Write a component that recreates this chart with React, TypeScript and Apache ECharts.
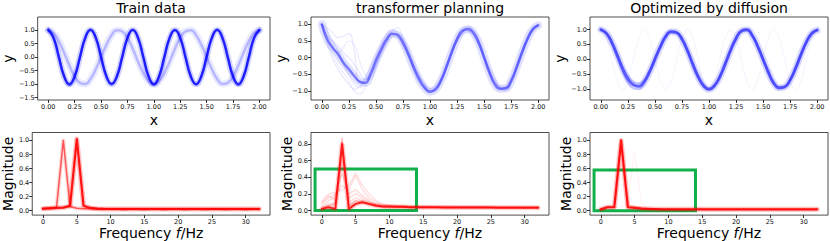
import React, { useEffect, useRef } from 'react';
import * as echarts from 'echarts';

const FONT = 'DejaVu Sans';

// ---------- shared x grids ----------
const X_TOP = [0, 0.05, 0.1, 0.15, 0.2, 0.25, 0.3, 0.35, 0.4, 0.45, 0.5, 0.55, 0.6, 0.65, 0.7, 0.75, 0.8, 0.85, 0.9, 0.95, 1.0,
  1.05, 1.1, 1.15, 1.2, 1.25, 1.3, 1.35, 1.4, 1.45, 1.5, 1.55, 1.6, 1.65, 1.7, 1.75, 1.8, 1.85, 1.9, 1.95, 2.0];
const FREQ = [0, 1, 2, 3, 4, 5, 6, 7, 8, 9, 10, 11, 12, 13, 14, 15, 16, 17, 18, 19, 20, 21, 22, 23, 24, 25, 26, 27, 28, 29, 30, 31, 32];

// ---------- tick labels ----------
const X_TOP_TICKS = [0, 0.25, 0.5, 0.75, 1.0, 1.25, 1.5, 1.75, 2.0];
const FREQ_TICKS = [0, 5, 10, 15, 20, 25, 30];
const Y_TRAIN_TICKS = [-1.5, -1.0, -0.5, 0.0, 0.5, 1.0];
const Y_TOP_TICKS = [-1.0, -0.5, 0.0, 0.5, 1.0];
const Y_MAG_TICKS = [0.0, 0.2, 0.4, 0.6, 0.8, 1.0];
const Y_MAG_TICKS_MID = [0.0, 0.2, 0.4, 0.6, 0.8];

// ---------- Train data (time domain) ----------
const TRAIN_FAST = [1.0, 0.71, 0.0, -0.71, -1.0, -0.71, 0.0, 0.71, 1.0, 0.71, 0.0, -0.71, -1.0, -0.71, 0.0, 0.71, 1.0, 0.71, 0.0, -0.71,
  -1.0, -0.71, 0.0, 0.71, 1.0, 0.71, 0.0, -0.71, -1.0, -0.71, 0.0, 0.71, 1.0, 0.71, 0.0, -0.71, -1.0, -0.71, 0.0, 0.71, 1.0];
const TRAIN_FAST_B = [1.05, 0.75, 0.05, -0.68, -1.06, -0.76, -0.05, 0.66, 1.04, 0.76, 0.04, -0.67, -0.97, -0.75, -0.04, 0.68, 1.03, 0.74, 0.03, -0.74,
  -1.04, -0.68, 0.04, 0.74, 0.98, 0.68, -0.04, -0.74, -1.03, -0.67, 0.05, 0.75, 1.04, 0.67, -0.03, -0.75, -1.05, -0.73, 0.03, 0.73, 1.02];
const TRAIN_SLOW = [1.0, 0.89, 0.59, 0.16, -0.31, -0.71, -0.95, -0.99, -0.81, -0.45, 0.0, 0.45, 0.81, 0.99, 0.95, 0.71, 0.31, -0.16, -0.59, -0.89,
  -1.0, -0.89, -0.59, -0.16, 0.31, 0.71, 0.95, 0.99, 0.81, 0.45, 0.0, -0.45, -0.81, -0.99, -0.95, -0.71, -0.31, 0.16, 0.59, 0.89, 1.0];

// ---------- transformer planning (time domain) ----------
const TRANS_MAIN = [1.0, 0.55, 0.3, 0.1, -0.15, -0.35, -0.55, -0.72, -0.76, -0.5, -0.1, 0.25, 0.55, 0.72, 0.68, 0.45, 0.1, -0.3, -0.65, -0.9,
  -1.02, -0.95, -0.7, -0.3, 0.15, 0.55, 0.8, 0.85, 0.75, 0.45, 0.0, -0.45, -0.8, -0.93, -0.92, -0.7, -0.3, 0.15, 0.55, 0.85, 0.97];
const TRANS_V1 = [1.0, 0.8, 0.5, 0.2, -0.2, -0.5, -0.8, -0.9, -0.7, -0.4, 0.0, 0.35, 0.62, 0.78, 0.7, 0.4, 0.05, -0.35, -0.7, -0.92,
  -1.0, -0.9, -0.62, -0.22, 0.22, 0.6, 0.85, 0.9, 0.72, 0.38, -0.05, -0.5, -0.82, -0.95, -0.88, -0.62, -0.22, 0.22, 0.6, 0.86, 0.98];
const TRANS_V2 = [1.0, 0.9, 0.75, 0.6, 0.65, 0.72, 0.2, -0.75, -0.7, -0.45, -0.05, 0.3, 0.58, 0.7, 0.62, 0.4, 0.08, -0.28, -0.6, -0.85,
  -0.98, -0.98, -0.75, -0.35, 0.1, 0.5, 0.75, 0.88, 0.8, 0.5, 0.05, -0.4, -0.75, -0.92, -0.95, -0.75, -0.35, 0.1, 0.5, 0.8, 0.96];
const TRANS_V3 = [1.0, 0.4, -0.05, -0.35, -0.6, -0.8, -0.95, -0.85, -0.6, -0.3, 0.05, 0.4, 0.7, 0.85, 0.75, 0.5, 0.15, -0.25, -0.6, -0.88,
  -1.05, -1.0, -0.75, -0.35, 0.1, 0.48, 0.75, 0.9, 0.85, 0.55, 0.1, -0.35, -0.72, -0.9, -1.0, -0.8, -0.4, 0.05, 0.5, 0.82, 0.95];
const TRANS_V4 = [1.0, 0.65, 0.5, 0.35, 0.15, 0.0, -0.2, -0.45, -0.65, -0.6, -0.25, 0.15, 0.45, 0.65, 0.72, 0.55, 0.2, -0.2, -0.55, -0.8,
  -0.95, -0.92, -0.65, -0.25, 0.2, 0.6, 0.82, 0.8, 0.65, 0.38, 0.0, -0.4, -0.7, -0.88, -0.9, -0.68, -0.28, 0.18, 0.6, 0.88, 1.0];
const TRANS_V5 = [1.0, 0.7, 0.35, 0.15, 0.3, 0.5, 0.4, -0.1, -0.5, -0.65, -0.3, 0.1, 0.45, 0.8, 0.9, 0.6, 0.25, -0.15, -0.5, -0.78,
  -0.92, -0.85, -0.6, -0.2, 0.25, 0.62, 0.88, 0.95, 0.78, 0.5, 0.1, -0.3, -0.62, -0.85, -0.85, -0.6, -0.2, 0.25, 0.62, 0.9, 1.0];
const TRANS_V6 = [1.0, 0.5, 0.1, -0.25, -0.45, -0.7, -1.0, -1.1, -0.9, -0.55, -0.2, 0.2, 0.5, 0.65, 0.6, 0.35, 0.0, -0.4, -0.75, -0.95,
  -1.05, -0.95, -0.7, -0.3, 0.15, 0.5, 0.7, 0.78, 0.7, 0.42, 0.0, -0.45, -0.85, -1.0, -0.95, -0.72, -0.32, 0.12, 0.5, 0.78, 0.95];

// ---------- Optimized by diffusion (time domain) ----------
const DIFF_MAIN = [1.0, 0.88, 0.58, 0.15, -0.3, -0.65, -0.85, -0.9, -0.75, -0.42, 0.0, 0.42, 0.77, 0.93, 0.9, 0.68, 0.3, -0.16, -0.58, -0.88,
  -1.0, -0.88, -0.58, -0.15, 0.31, 0.7, 0.95, 0.99, 0.8, 0.44, 0.0, -0.44, -0.8, -0.95, -0.92, -0.69, -0.3, 0.16, 0.58, 0.87, 0.98];
const DIFF_V1 = [0.97, 0.85, 0.52, 0.08, -0.4, -0.78, -0.98, -1.0, -0.82, -0.45, 0.02, 0.45, 0.8, 0.96, 0.92, 0.66, 0.26, -0.2, -0.62, -0.92,
  -1.03, -0.9, -0.56, -0.12, 0.34, 0.74, 0.98, 1.02, 0.82, 0.42, -0.04, -0.48, -0.84, -0.99, -0.95, -0.7, -0.28, 0.18, 0.6, 0.9, 1.0];
const DIFF_V2 = [1.02, 0.9, 0.62, 0.2, -0.22, -0.55, -0.75, -0.8, -0.68, -0.38, 0.04, 0.4, 0.74, 0.9, 0.88, 0.7, 0.33, -0.12, -0.55, -0.85,
  -0.97, -0.86, -0.6, -0.18, 0.28, 0.66, 0.92, 0.96, 0.78, 0.46, 0.03, -0.4, -0.76, -0.92, -0.9, -0.68, -0.32, 0.14, 0.56, 0.85, 0.97];

// ---------- spectra (magnitude per bin 0..32) ----------
const FFT_TRAIN_FAST = [0.03, 0.035, 0.04, 0.045, 0.07, 1.02, 0.07, 0.04, 0.03, 0.026, 0.025, 0.025, 0.024, 0.025, 0.025, 0.024, 0.025,
  0.025, 0.024, 0.025, 0.025, 0.024, 0.025, 0.025, 0.024, 0.025, 0.025, 0.024, 0.025, 0.025, 0.024, 0.025, 0.025];
const FFT_TRAIN_SLOW = [0.03, 0.04, 0.05, 1.0, 0.06, 0.035, 0.03, 0.028, 0.026, 0.025, 0.025, 0.025, 0.024, 0.025, 0.025, 0.024, 0.025,
  0.025, 0.024, 0.025, 0.025, 0.024, 0.025, 0.025, 0.024, 0.025, 0.025, 0.024, 0.025, 0.025, 0.024, 0.025, 0.025];

const FFT_TRANS_MAIN = [0.02, 0.04, 0.02, 0.8, 0.02, 0.08, 0.1, 0.08, 0.06, 0.05, 0.05, 0.045, 0.045, 0.04, 0.04, 0.04, 0.04,
  0.04, 0.038, 0.038, 0.038, 0.038, 0.036, 0.036, 0.036, 0.036, 0.035, 0.035, 0.035, 0.035, 0.035, 0.035, 0.035];
const FFT_TRANS_F1 = [0.05, 0.12, 0.17, 0.45, 0.2, 0.25, 0.18, 0.12, 0.08, 0.06, 0.055, 0.05, 0.05, 0.048, 0.046, 0.045, 0.044,
  0.043, 0.042, 0.042, 0.041, 0.041, 0.04, 0.04, 0.04, 0.04, 0.039, 0.039, 0.039, 0.039, 0.038, 0.038, 0.038];
const FFT_TRANS_F2 = [0.1, 0.15, 0.2, 0.3, 0.25, 0.42, 0.25, 0.15, 0.1, 0.07, 0.06, 0.058, 0.055, 0.052, 0.05, 0.05, 0.05,
  0.048, 0.048, 0.048, 0.046, 0.046, 0.046, 0.045, 0.045, 0.045, 0.045, 0.044, 0.044, 0.044, 0.044, 0.044, 0.044];
const FFT_TRANS_F3 = [0.08, 0.18, 0.12, 0.6, 0.15, 0.2, 0.15, 0.1, 0.07, 0.05, 0.045, 0.04, 0.04, 0.035, 0.035, 0.032, 0.032,
  0.03, 0.03, 0.03, 0.03, 0.03, 0.028, 0.028, 0.028, 0.028, 0.028, 0.028, 0.028, 0.028, 0.028, 0.028, 0.028];
const FFT_TRANS_F4 = [0.03, 0.08, 0.1, 0.7, 0.1, 0.15, 0.12, 0.08, 0.06, 0.05, 0.05, 0.048, 0.046, 0.045, 0.044, 0.043, 0.042,
  0.042, 0.041, 0.04, 0.04, 0.04, 0.04, 0.04, 0.04, 0.04, 0.04, 0.04, 0.04, 0.04, 0.04, 0.04, 0.04];
const FFT_TRANS_F5 = [0.12, 0.2, 0.22, 0.25, 0.3, 0.45, 0.3, 0.2, 0.12, 0.08, 0.065, 0.06, 0.058, 0.056, 0.055, 0.054, 0.053,
  0.052, 0.052, 0.051, 0.05, 0.05, 0.05, 0.05, 0.05, 0.05, 0.05, 0.05, 0.05, 0.05, 0.05, 0.05, 0.05];
const FFT_TRANS_F6 = [0.02, 0.06, 0.08, 0.87, 0.06, 0.12, 0.1, 0.07, 0.05, 0.04, 0.035, 0.035, 0.035, 0.035, 0.035, 0.035, 0.035,
  0.035, 0.035, 0.035, 0.035, 0.035, 0.035, 0.035, 0.035, 0.035, 0.035, 0.035, 0.035, 0.035, 0.035, 0.035, 0.035];

const FFT_DIFF_MAIN = [0.02, 0.05, 0.05, 1.0, 0.05, 0.04, 0.03, 0.025, 0.022, 0.02, 0.02, 0.02, 0.02, 0.02, 0.02, 0.02, 0.02,
  0.02, 0.02, 0.02, 0.02, 0.02, 0.02, 0.02, 0.02, 0.02, 0.02, 0.02, 0.02, 0.02, 0.02, 0.02, 0.02];
const FFT_DIFF_F1 = [0.02, 0.03, 0.04, 0.06, 0.1, 0.85, 0.1, 0.05, 0.03, 0.025, 0.022, 0.022, 0.022, 0.022, 0.022, 0.022, 0.022,
  0.022, 0.022, 0.022, 0.022, 0.022, 0.022, 0.022, 0.022, 0.022, 0.022, 0.022, 0.022, 0.022, 0.022, 0.022, 0.022];
const FFT_DIFF_F2 = [0.03, 0.06, 0.07, 0.9, 0.08, 0.06, 0.05, 0.04, 0.03, 0.03, 0.025, 0.025, 0.025, 0.025, 0.025, 0.025, 0.025,
  0.025, 0.025, 0.025, 0.025, 0.025, 0.025, 0.025, 0.025, 0.025, 0.025, 0.025, 0.025, 0.025, 0.025, 0.025, 0.025];

// ---------- highlight boxes [x0, y0, x1, y1] ----------
const BOX_TRANS = [-1, 0, 14, 0.5];
const BOX_DIFF = [-1, 0, 14, 0.58];

const TITLES = ['Train data', 'transformer planning', 'Optimized by diffusion'];

// ---------- layout ----------
const LEFTS = [32, 311, 590];
const GW = 238;
const TOP_ROW = 17;
const BOT_ROW = 132.5;
const GH = 83;

const minus = (s: string) => s.replace('-', '\u2212');
const fmt1 = (v: number) => minus((Math.abs(v) < 1e-9 ? 0 : v).toFixed(1));
const fmt2 = (v: number) => minus((Math.abs(v) < 1e-9 ? 0 : v).toFixed(2));
const fmt0 = (v: number) => String(Math.round(v));

function pairs(xs: number[], ys: number[]) {
  return xs.map((x, i) => [x, ys[i]]);
}

function ln(ai: number, xs: number[], ys: number[], color: string, width: number, smooth: boolean | number, z = 2, extra: any = {}) {
  return {
    type: 'line', xAxisIndex: ai, yAxisIndex: ai, data: pairs(xs, ys), showSymbol: false, symbol: 'none',
    smooth, silent: true, z, lineStyle: { color, width, cap: 'round', join: 'round' }, ...extra,
  };
}

function xAx(gi: number, min: number, max: number, ticks: number[], fmt: any, name: string, nameGap: number, rich?: any) {
  return {
    type: 'value', gridIndex: gi, min, max,
    axisLine: { show: false, onZero: false },
    splitLine: { show: false },
    axisTick: { show: true, length: 3, lineStyle: { color: '#000', width: 0.8 }, customValues: ticks },
    axisLabel: { show: true, customValues: ticks, formatter: fmt, fontSize: 6.5, color: '#111', fontFamily: FONT, margin: 3 },
    name, nameLocation: 'middle', nameGap,
    nameTextStyle: { fontSize: 14, fontFamily: FONT, color: '#000', ...(rich ? { rich } : {}) },
  };
}

function yAx(gi: number, min: number, max: number, ticks: number[], name: string, nameGap: number) {
  return {
    type: 'value', gridIndex: gi, min, max,
    axisLine: { show: false, onZero: false },
    splitLine: { show: false },
    axisTick: { show: true, length: 3, lineStyle: { color: '#000', width: 0.8 }, customValues: ticks },
    axisLabel: { show: true, customValues: ticks, formatter: fmt1, fontSize: 6.5, color: '#111', fontFamily: FONT, margin: 3 },
    name, nameLocation: 'middle', nameGap, nameRotate: 90,
    nameTextStyle: { fontSize: 14, fontFamily: FONT, color: '#000' },
  };
}

function boxArea(b: number[]) {
  return {
    silent: true,
    itemStyle: { color: 'rgba(0,0,0,0)', borderColor: '#10b04a', borderWidth: 3 },
    data: [[{ coord: [b[0], b[1]] }, { coord: [b[2], b[3]] }]],
  };
}

export default function App() {
  const ref = useRef<HTMLDivElement>(null);
  useEffect(() => {
    if (!ref.current) return;
    const chart = echarts.init(ref.current, undefined, { renderer: 'svg' });

    const grid = [0, 1, 2].map((i) => ({
      left: LEFTS[i], top: TOP_ROW, width: GW, height: GH, show: true, borderColor: '#222', borderWidth: 0.8,
      backgroundColor: 'transparent',
    })).concat([0, 1, 2].map((i) => ({
      left: LEFTS[i], top: BOT_ROW, width: GW, height: GH, show: true, borderColor: '#222', borderWidth: 0.8,
      backgroundColor: 'transparent',
    })));

    const freqRich = {
      a: { fontSize: 14, fontFamily: FONT, color: '#000' },
      b: { fontSize: 14, fontFamily: FONT, color: '#000', fontStyle: 'italic' },
    };
    const freqName = '{a|Frequency }{b|f}{a|/Hz}';

    const xAxis = [
      xAx(0, -0.1, 2.1, X_TOP_TICKS, fmt2, 'x', 13),
      xAx(1, -0.1, 2.1, X_TOP_TICKS, fmt2, 'x', 13),
      xAx(2, -0.1, 2.1, X_TOP_TICKS, fmt2, 'x', 13),
      xAx(3, -1.6, 33.6, FREQ_TICKS, fmt0, freqName, 9, freqRich),
      xAx(4, -1.6, 33.6, FREQ_TICKS, fmt0, freqName, 9, freqRich),
      xAx(5, -1.6, 33.6, FREQ_TICKS, fmt0, freqName, 9, freqRich),
    ];
    const yAxis = [
      yAx(0, -1.585, 1.48, Y_TRAIN_TICKS, 'y', 19),
      yAx(1, -1.27, 1.22, Y_TOP_TICKS, 'y', 19),
      yAx(2, -1.36, 1.42, Y_TOP_TICKS, 'y', 19),
      yAx(3, -0.062, 1.113, Y_MAG_TICKS, 'Magnitude', 17),
      yAx(4, -0.055, 0.94, Y_MAG_TICKS_MID, 'Magnitude', 17),
      yAx(5, -0.062, 1.113, Y_MAG_TICKS, 'Magnitude', 17),
    ];

    const B = (a: number) => `rgba(0,0,255,${a})`;
    const R = (a: number) => `rgba(255,0,0,${a})`;

    const series: any[] = [
      // Train data
      ln(0, X_TOP, TRAIN_SLOW, B(0.08), 7, true, 1),
      ln(0, X_TOP, TRAIN_SLOW, B(0.22), 2.5, true, 2),
      ln(0, X_TOP, TRAIN_FAST, B(0.18), 6, true, 3),
      ln(0, X_TOP, TRAIN_FAST_B, B(0.35), 1.5, true, 4),
      ln(0, X_TOP, TRAIN_FAST, B(0.8), 2.5, true, 5),

      // transformer planning
      ln(1, X_TOP, TRANS_V1, B(0.09), 1.2, true, 1),
      ln(1, X_TOP, TRANS_V2, B(0.09), 1.2, true, 1),
      ln(1, X_TOP, TRANS_V3, B(0.09), 1.2, true, 1),
      ln(1, X_TOP, TRANS_V4, B(0.1), 1.2, true, 1),
      ln(1, X_TOP, TRANS_V5, B(0.08), 1.2, true, 1),
      ln(1, X_TOP, TRANS_V6, B(0.08), 1.2, true, 1),
      ln(1, X_TOP, TRANS_MAIN, B(0.12), 8, true, 2),
      ln(1, X_TOP, TRANS_MAIN, B(0.45), 2.5, true, 3),

      // Optimized by diffusion
      ln(2, X_TOP, TRAIN_FAST, B(0.025), 1.2, true, 1),
      ln(2, X_TOP, TRAIN_FAST_B, B(0.02), 1.2, true, 1),
      ln(2, X_TOP, DIFF_V1, B(0.15), 2, true, 2),
      ln(2, X_TOP, DIFF_V2, B(0.15), 2, true, 2),
      ln(2, X_TOP, DIFF_MAIN, B(0.15), 7, true, 2),
      ln(2, X_TOP, DIFF_MAIN, B(0.55), 3, true, 3),

      // spectrum of train data
      ln(3, FREQ, FFT_TRAIN_SLOW, R(0.15), 4, false, 1),
      ln(3, FREQ, FFT_TRAIN_SLOW, R(0.6), 1.5, false, 2),
      ln(3, FREQ, FFT_TRAIN_FAST, R(0.25), 5, false, 3),
      ln(3, FREQ, FFT_TRAIN_FAST, R(0.9), 2.2, false, 4),

      // spectrum of transformer planning
      ln(4, FREQ, FFT_TRANS_F1, R(0.14), 1.5, false, 1),
      ln(4, FREQ, FFT_TRANS_F2, R(0.12), 1.5, false, 1),
      ln(4, FREQ, FFT_TRANS_F3, R(0.14), 1.5, false, 1),
      ln(4, FREQ, FFT_TRANS_F4, R(0.14), 1.5, false, 1),
      ln(4, FREQ, FFT_TRANS_F5, R(0.12), 1.5, false, 1),
      ln(4, FREQ, FFT_TRANS_F6, R(0.3), 1.2, false, 1),
      ln(4, FREQ, FFT_TRANS_MAIN, R(0.2), 5, false, 2),
      ln(4, FREQ, FFT_TRANS_MAIN, R(0.85), 2, false, 3, { markArea: boxArea(BOX_TRANS) }),

      // spectrum of diffusion
      ln(5, FREQ, FFT_DIFF_F1, R(0.05), 1.2, false, 1),
      ln(5, FREQ, FFT_DIFF_F2, R(0.15), 1.5, false, 1),
      ln(5, FREQ, FFT_DIFF_MAIN, R(0.25), 5, false, 2),
      ln(5, FREQ, FFT_DIFF_MAIN, R(0.9), 2.2, false, 3, { markArea: boxArea(BOX_DIFF) }),
    ];

    const title = TITLES.map((t, i) => ({
      text: t, left: LEFTS[i] + GW / 2, top: 1, textAlign: 'center', padding: 0,
      textStyle: { fontSize: 14, fontWeight: 'normal', fontFamily: FONT, color: '#000' },
    }));

    chart.setOption({
      animation: false,
      backgroundColor: '#fff',
      title,
      grid,
      xAxis,
      yAxis,
      series,
    });
    return () => chart.dispose();
  }, []);

  return (
    <div
      ref={ref}
      style={{ position: 'absolute', left: 0, top: 0, width: 830, height: 241, background: '#fff' }}
    />
  );
}
